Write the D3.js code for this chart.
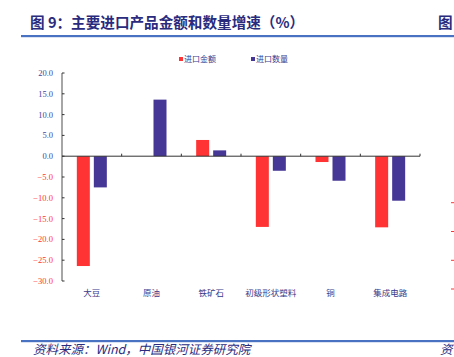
<!DOCTYPE html>
<html><head><meta charset="utf-8">
<script src="https://cdn.jsdelivr.net/npm/d3@7"></script>
<style>body{margin:0;background:#fff;}svg{display:block;}</style>
</head><body>
<svg id="c" width="454" height="357"></svg>
<script>
const categories = ["大豆","原油","铁矿石","初级形状塑料","铜","集成电路"];
const amountGrowth = [-26.4, 0, 3.9, -17.0, -1.4, -17.1];
const volumeGrowth = [-7.5, 13.6, 1.4, -3.5, -5.9, -10.7];
const yTicks = [20,15,10,5,0,-5,-10,-15,-20,-25,-30];
const seriesNames = ["进口金额","进口数量"];

const RED = "#ff3333", BLUE = "#463796", NAVY = "#2b2b7e";
const svg = d3.select("#c");
const serif = "'Liberation Serif','DejaVu Serif',serif";
const cjk = "'Noto Sans CJK SC',sans-serif";

// header
svg.append("text").attr("x",30).attr("y",28).attr("font-family",cjk).attr("font-weight","bold")
  .attr("font-size",14.6).attr("fill",NAVY).text("图 9：主要进口产品金额和数量增速（%）");
svg.append("text").attr("x",438).attr("y",28).attr("font-family",cjk).attr("font-weight","bold")
  .attr("font-size",14.6).attr("fill",NAVY).text("图");
svg.append("rect").attr("x",21).attr("y",35).attr("width",433).attr("height",2.2).attr("fill","#4a72c2");

// footer
svg.append("rect").attr("x",21).attr("y",340).attr("width",433).attr("height",2.2).attr("fill","#4a72c2");
svg.append("text").attr("x",33).attr("y",354).attr("font-family",cjk).attr("font-style","italic")
  .attr("font-size",12.5).attr("fill",NAVY).text("资料来源：Wind，中国银河证券研究院");
svg.append("text").attr("x",440).attr("y",354).attr("font-family",cjk).attr("font-style","italic")
  .attr("font-size",12.5).attr("fill",NAVY).text("资");

// scales
const x = d3.scaleBand().domain(categories).range([62,420]);
const y = d3.scaleLinear().domain([-30,20]).range([281,73]);

// y axis
const gy = svg.append("g").attr("transform","translate(62,0)");
gy.append("line").attr("y1",y(20)).attr("y2",y(-30)).attr("stroke","#888").attr("stroke-width",1.5);
yTicks.forEach(t=>{
  gy.append("line").attr("x1",0).attr("x2",2.5).attr("y1",y(t)).attr("y2",y(t)).attr("stroke","#333");
  gy.append("text").attr("x",-9).attr("y",y(t)+3).attr("text-anchor","end")
    .attr("font-family",serif).attr("font-size",8.5)
    .attr("fill", t<0 ? RED : "#3f3f9f").text((t<0?"−":"")+Math.abs(t).toFixed(1));
});

// bars
const bw = 13, gap = 4;
const amt = categories.map((c,i)=>({c,v:amountGrowth[i]}));
const vol = categories.map((c,i)=>({c,v:volumeGrowth[i]}));
const cx = c => x(c)+x.bandwidth()/2;
svg.append("g").selectAll("rect").data(amt).join("rect")
  .attr("x",d=>cx(d.c)-gap/2-bw).attr("width",bw)
  .attr("y",d=>y(Math.max(0,d.v))).attr("height",d=>Math.abs(y(d.v)-y(0)))
  .attr("fill",RED);
svg.append("g").selectAll("rect").data(vol).join("rect")
  .attr("x",d=>cx(d.c)+gap/2).attr("width",bw)
  .attr("y",d=>y(Math.max(0,d.v))).attr("height",d=>Math.abs(y(d.v)-y(0)))
  .attr("fill",BLUE);

// zero line (x axis)
svg.append("line").attr("x1",62).attr("x2",420).attr("y1",y(0)).attr("y2",y(0)).attr("stroke","#333").attr("stroke-width",1);
categories.forEach((c,i)=>{
  const xx = x(c)+x.bandwidth();
  svg.append("line").attr("x1",xx).attr("x2",xx).attr("y1",y(0)).attr("y2",y(0)-2.5).attr("stroke","#333");
});

// category labels
svg.append("g").selectAll("text").data(categories).join("text")
  .attr("x",d=>cx(d)).attr("y",296).attr("text-anchor","middle")
  .attr("font-family",cjk).attr("font-size",8.5).attr("fill","#3a3a8a").text(d=>d);

// legend
const lg = [{n:seriesNames[0],c:RED,x:179},{n:seriesNames[1],c:BLUE,x:251}];
lg.forEach(l=>{
  svg.append("rect").attr("x",l.x).attr("y",57).attr("width",4).attr("height",4).attr("fill",l.c);
  svg.append("text").attr("x",l.x+5).attr("y",62).attr("font-family",cjk).attr("font-size",8)
    .attr("fill","#3a3a8a").text(l.n);
});

// fragments of adjacent chart at right edge
[202.7,231.5,260.3,289].forEach(yy=>{
  svg.append("line").attr("x1",451).attr("x2",454).attr("y1",yy).attr("y2",yy).attr("stroke",RED);
});
</script>
</body></html>
